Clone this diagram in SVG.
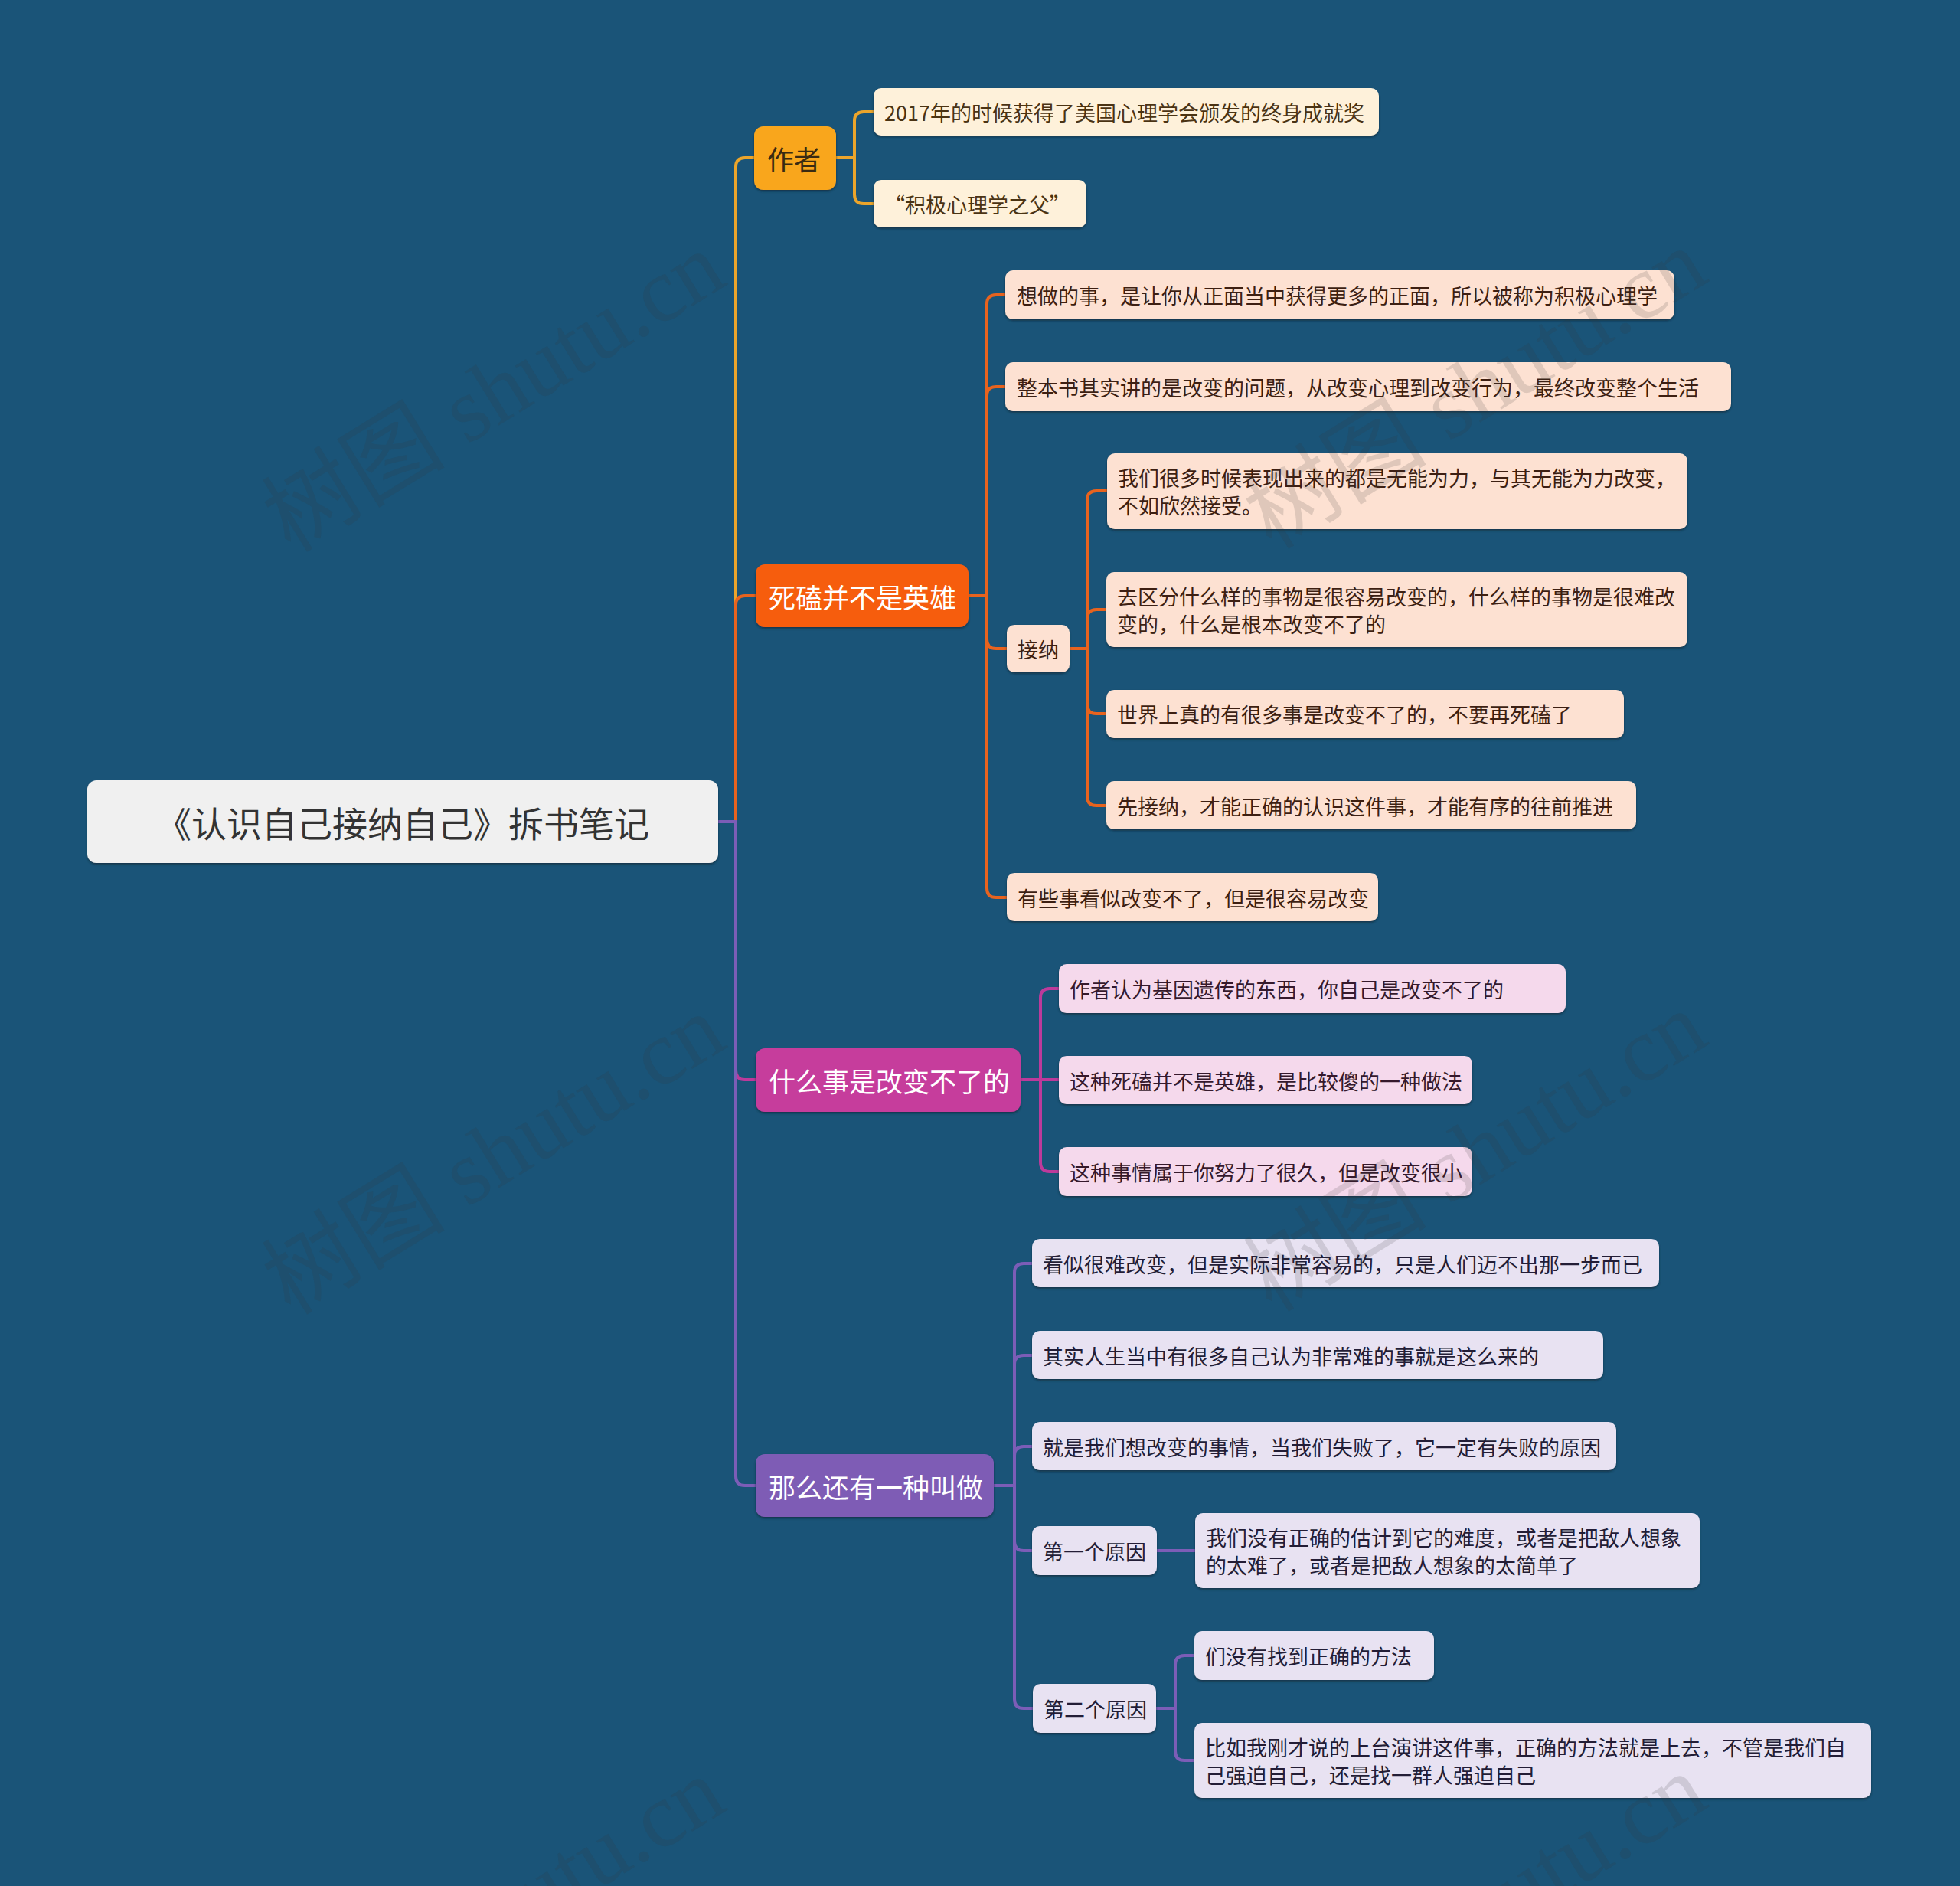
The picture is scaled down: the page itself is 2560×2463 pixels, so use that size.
<svg xmlns="http://www.w3.org/2000/svg" width="2560" height="2463" viewBox="0 0 2560 2463">
<style>
text{font-family:"Noto Sans CJK SC","Liberation Sans",sans-serif;dominant-baseline:central}
.root text{font-size:46px;fill:#333333}
.l1 text{font-size:35px;fill:#ffffff}
.lf text{font-size:27px}
.conn path{fill:none;stroke-width:4;stroke-linejoin:round}
.c-y{stroke:#eca52b}
.c-o{stroke:#e8631e}
.c-m{stroke:#bd3a9b}
.c-p{stroke:#7c5db7}
.cream rect{fill:#fef1da}
.cream text{fill:#4a3313}
.peach rect{fill:#fde1d2}
.peach text{fill:#3d1f12}
.pink rect{fill:#f5d9ec}
.pink text{fill:#35192c}
.lav rect{fill:#e8e2f2}
.lav text{fill:#231d36}
.wm{font-family:"Liberation Serif","Noto Sans CJK SC",serif;font-size:120px;fill:#333333;fill-opacity:0.15;text-anchor:middle}
</style>
<defs>
<filter id="sh" x="-5%" y="-20%" width="110%" height="150%">
<feDropShadow dx="0" dy="2" stdDeviation="1.5" flood-color="#0a2638" flood-opacity="0.7"/>
</filter>
</defs>
<rect x="0" y="0" width="2560" height="2463" fill="#1a5478"/>

<g class="conn" id="connectors">
<path class="c-y" d="M938 1073 H961 V218 Q961 206 973 206 H986"/>
<path class="c-o" d="M938 1073 H961 V790 Q961 778 973 778 H988"/>
<path class="c-m" d="M938 1073 H961 V1398 Q961 1410 973 1410 H988"/>
<path class="c-p" d="M938 1073 H961 V1928 Q961 1940 973 1940 H988"/>

<path class="c-y" d="M1092 206 H1116 V158 Q1116 146 1128 146 H1142"/>
<path class="c-y" d="M1092 206 H1116 V254 Q1116 266 1128 266 H1142"/>

<path class="c-o" d="M1265 778 H1289 V397 Q1289 385 1301 385 H1314"/>
<path class="c-o" d="M1265 778 H1289 V517 Q1289 505 1301 505 H1314"/>
<path class="c-o" d="M1265 778 H1289 V835 Q1289 847 1301 847 H1316"/>
<path class="c-o" d="M1265 778 H1289 V1160 Q1289 1172 1301 1172 H1316"/>

<path class="c-o" d="M1397 847 H1420 V653 Q1420 641 1432 641 H1447"/>
<path class="c-o" d="M1397 847 H1420 V808 Q1420 796 1432 796 H1446"/>
<path class="c-o" d="M1397 847 H1420 V920 Q1420 932 1432 932 H1446"/>
<path class="c-o" d="M1397 847 H1420 V1040 Q1420 1052 1432 1052 H1446"/>

<path class="c-m" d="M1333 1410 H1359 V1303 Q1359 1291 1371 1291 H1384"/>
<path class="c-m" d="M1333 1410 H1384"/>
<path class="c-m" d="M1333 1410 H1359 V1518 Q1359 1530 1371 1530 H1384"/>

<path class="c-p" d="M1298 1940 H1325 V1662 Q1325 1650 1337 1650 H1349"/>
<path class="c-p" d="M1298 1940 H1325 V1782 Q1325 1770 1337 1770 H1349"/>
<path class="c-p" d="M1298 1940 H1325 V1901 Q1325 1889 1337 1889 H1349"/>
<path class="c-p" d="M1298 1940 H1325 V2013 Q1325 2025 1337 2025 H1349"/>
<path class="c-p" d="M1298 1940 H1325 V2219 Q1325 2231 1337 2231 H1350"/>

<path class="c-p" d="M1511 2025 H1562"/>
<path class="c-p" d="M1510 2231 H1535 V2174 Q1535 2162 1547 2162 H1561"/>
<path class="c-p" d="M1510 2231 H1535 V2287 Q1535 2299 1547 2299 H1561"/>
</g>

<g id="root" class="root">
<rect x="114" y="1019" width="824" height="108" rx="12" fill="#f0f0f0" filter="url(#sh)"/>
<text x="526" y="1073" text-anchor="middle">《认识自己接纳自己》拆书笔记</text>
</g>

<g id="n-author" class="l1">
<rect x="985" y="165" width="107" height="83" rx="12" fill="#f9a61c" filter="url(#sh)"/>
<text x="1002" y="206" style="fill:#3a2a12">作者</text>
</g>
<g id="n-sike" class="l1">
<rect x="987" y="737" width="278" height="82" rx="12" fill="#f65d0e" filter="url(#sh)"/>
<text x="1004" y="778">死磕并不是英雄</text>
</g>
<g id="n-shenme" class="l1">
<rect x="987" y="1369" width="346" height="83" rx="12" fill="#c63c9c" filter="url(#sh)"/>
<text x="1004" y="1410">什么事是改变不了的</text>
</g>
<g id="n-name" class="l1">
<rect x="987" y="1899" width="311" height="82" rx="12" fill="#7e5bb5" filter="url(#sh)"/>
<text x="1004" y="1940">那么还有一种叫做</text>
</g>

<g id="a1" class="lf cream">
<rect x="1141" y="115" width="660" height="62" rx="10" filter="url(#sh)"/>
<text x="1155" y="146">2017年的时候获得了美国心理学会颁发的终身成就奖</text>
</g>
<g id="a2" class="lf cream">
<rect x="1141" y="235" width="278" height="62" rx="10" filter="url(#sh)"/>
<text x="1155" y="266">“积极心理学之父”</text>
</g>

<g id="b1" class="lf peach">
<rect x="1313" y="353" width="874" height="64" rx="10" filter="url(#sh)"/>
<text x="1328" y="385">想做的事，是让你从正面当中获得更多的正面，所以被称为积极心理学</text>
</g>
<g id="b2" class="lf peach">
<rect x="1313" y="473" width="948" height="64" rx="10" filter="url(#sh)"/>
<text x="1328" y="505">整本书其实讲的是改变的问题，从改变心理到改变行为，最终改变整个生活</text>
</g>
<g id="b-jiena" class="lf peach">
<rect x="1315" y="816" width="82" height="62" rx="10" filter="url(#sh)"/>
<text x="1329" y="847">接纳</text>
</g>
<g id="c1" class="lf peach">
<rect x="1446" y="592" width="758" height="99" rx="10" filter="url(#sh)"/>
<text x="1460" y="623">我们很多时候表现出来的都是无能为力，与其无能为力改变，</text>
<text x="1460" y="659">不如欣然接受。</text>
</g>
<g id="c2" class="lf peach">
<rect x="1445" y="747" width="759" height="98" rx="10" filter="url(#sh)"/>
<text x="1459" y="778">去区分什么样的事物是很容易改变的，什么样的事物是很难改</text>
<text x="1459" y="814">变的，什么是根本改变不了的</text>
</g>
<g id="c3" class="lf peach">
<rect x="1445" y="901" width="676" height="63" rx="10" filter="url(#sh)"/>
<text x="1459" y="932">世界上真的有很多事是改变不了的，不要再死磕了</text>
</g>
<g id="c4" class="lf peach">
<rect x="1445" y="1020" width="692" height="63" rx="10" filter="url(#sh)"/>
<text x="1459" y="1052">先接纳，才能正确的认识这件事，才能有序的往前推进</text>
</g>
<g id="b3" class="lf peach">
<rect x="1315" y="1140" width="485" height="63" rx="10" filter="url(#sh)"/>
<text x="1329" y="1172">有些事看似改变不了，但是很容易改变</text>
</g>

<g id="d1" class="lf pink">
<rect x="1383" y="1259" width="662" height="64" rx="10" filter="url(#sh)"/>
<text x="1397" y="1291">作者认为基因遗传的东西，你自己是改变不了的</text>
</g>
<g id="d2" class="lf pink">
<rect x="1383" y="1379" width="540" height="63" rx="10" filter="url(#sh)"/>
<text x="1397" y="1411">这种死磕并不是英雄，是比较傻的一种做法</text>
</g>
<g id="d3" class="lf pink">
<rect x="1383" y="1498" width="540" height="64" rx="10" filter="url(#sh)"/>
<text x="1397" y="1530">这种事情属于你努力了很久，但是改变很小</text>
</g>

<g id="e1" class="lf lav">
<rect x="1348" y="1618" width="819" height="63" rx="10" filter="url(#sh)"/>
<text x="1362" y="1650">看似很难改变，但是实际非常容易的，只是人们迈不出那一步而已</text>
</g>
<g id="e2" class="lf lav">
<rect x="1348" y="1738" width="746" height="63" rx="10" filter="url(#sh)"/>
<text x="1362" y="1770">其实人生当中有很多自己认为非常难的事就是这么来的</text>
</g>
<g id="e3" class="lf lav">
<rect x="1348" y="1857" width="763" height="63" rx="10" filter="url(#sh)"/>
<text x="1362" y="1889">就是我们想改变的事情，当我们失败了，它一定有失败的原因</text>
</g>
<g id="f1" class="lf lav">
<rect x="1348" y="1993" width="163" height="64" rx="10" filter="url(#sh)"/>
<text x="1362" y="2025">第一个原因</text>
</g>
<g id="g1" class="lf lav">
<rect x="1561" y="1976" width="659" height="98" rx="10" filter="url(#sh)"/>
<text x="1575" y="2007">我们没有正确的估计到它的难度，或者是把敌人想象</text>
<text x="1575" y="2043">的太难了，或者是把敌人想象的太简单了</text>
</g>
<g id="f2" class="lf lav">
<rect x="1349" y="2199" width="161" height="64" rx="10" filter="url(#sh)"/>
<text x="1363" y="2231">第二个原因</text>
</g>
<g id="h1" class="lf lav">
<rect x="1560" y="2130" width="313" height="64" rx="10" filter="url(#sh)"/>
<text x="1574" y="2162">们没有找到正确的方法</text>
</g>
<g id="h2" class="lf lav">
<rect x="1560" y="2250" width="884" height="98" rx="10" filter="url(#sh)"/>
<text x="1574" y="2281">比如我刚才说的上台演讲这件事，正确的方法就是上去，不管是我们自</text>
<text x="1574" y="2317">己强迫自己，还是找一群人强迫自己</text>
</g>

<g id="watermark">
<text class="wm" transform="translate(645 512) rotate(-31.6)">树图 shutu.cn</text>
<text class="wm" transform="translate(1927 508) rotate(-31.6)">树图 shutu.cn</text>
<text class="wm" transform="translate(645 1508) rotate(-31.6)">树图 shutu.cn</text>
<text class="wm" transform="translate(1927 1504) rotate(-31.6)">树图 shutu.cn</text>
<text class="wm" transform="translate(645 2504) rotate(-31.6)">树图 shutu.cn</text>
<text class="wm" transform="translate(1927 2500) rotate(-31.6)">树图 shutu.cn</text>
</g>
</svg>
